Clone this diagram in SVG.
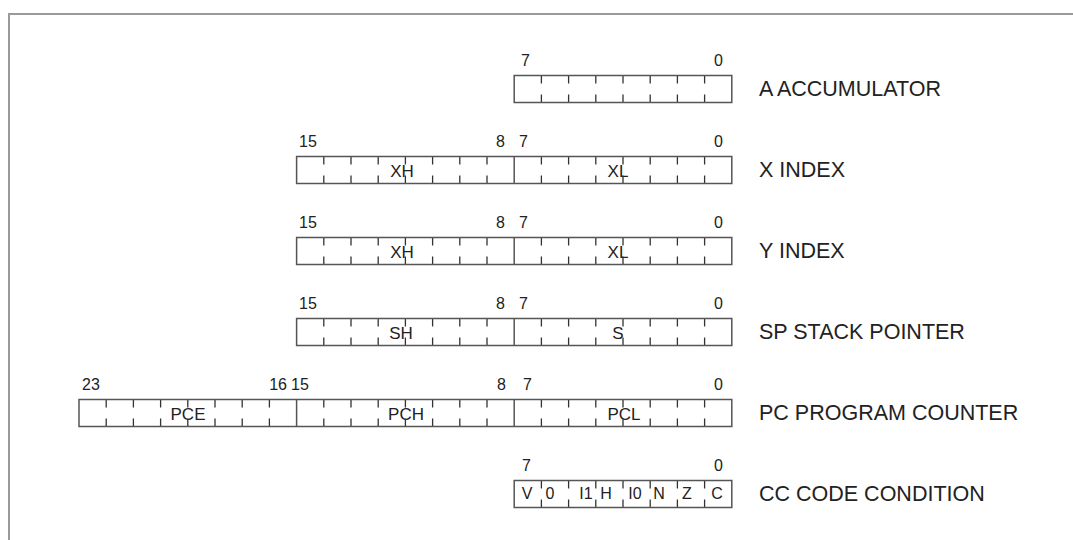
<svg xmlns="http://www.w3.org/2000/svg" xmlns:xlink="http://www.w3.org/1999/xlink" width="1073" height="540" viewBox="0 0 1073 540">
<style>
.frame{fill:none;stroke:#9a9a9a;stroke-width:2}
.box{fill:none;stroke:#555;stroke-width:1.5}
.tick{fill:none;stroke:#333;stroke-width:1.3}
.div{stroke:#555;stroke-width:1.5}
.num{font-family:"Liberation Sans",Arial,sans-serif;font-size:16px;fill:#222}
.lbl{font-family:"Liberation Sans",Arial,sans-serif;font-size:21.5px;fill:#222}
.in{font-family:"Liberation Sans",Arial,sans-serif;font-size:17px;fill:#222;text-anchor:middle}
.cc{font-family:"Liberation Sans",Arial,sans-serif;font-size:16px;fill:#222;text-anchor:middle}
.end{text-anchor:end}
</style>
<defs>
<path id="bt" class="tick" d="M27.2 0v8M54.4 0v8M81.6 0v8M108.8 0v8M136 0v8M163.2 0v8M190.4 0v8M27.2 27v-8M54.4 27v-8M81.6 27v-8M108.8 27v-8M136 27v-8M163.2 27v-8M190.4 27v-8"/>
</defs>
<rect class="frame" x="9" y="14" width="1100" height="600"/>

<g id="reg-a">
<text class="num" x="521" y="66">7</text>
<text class="num end" x="723" y="66">0</text>
<use xlink:href="#bt" x="514.2" y="75.5"/>
<rect class="box" x="514.2" y="75.5" width="217.6" height="27"/>
<text class="lbl" x="759" y="96">A ACCUMULATOR</text>
</g>

<g id="reg-x">
<text class="num" x="299" y="147">15</text>
<text class="num end" x="505" y="147">8</text>
<text class="num" x="519" y="147">7</text>
<text class="num end" x="723" y="147">0</text>
<text class="in" x="402" y="176.5">XH</text>
<text class="in" x="618" y="176.5">XL</text>
<use xlink:href="#bt" x="296.6" y="156.5"/>
<use xlink:href="#bt" x="514.2" y="156.5"/>
<line class="div" x1="514.2" y1="156.5" x2="514.2" y2="183.5"/>
<rect class="box" x="296.6" y="156.5" width="435.2" height="27"/>
<text class="lbl" x="759" y="177">X INDEX</text>
</g>

<g id="reg-y">
<text class="num" x="299" y="228">15</text>
<text class="num end" x="505" y="228">8</text>
<text class="num" x="519" y="228">7</text>
<text class="num end" x="723" y="228">0</text>
<text class="in" x="402" y="257.5">XH</text>
<text class="in" x="618" y="257.5">XL</text>
<use xlink:href="#bt" x="296.6" y="237.5"/>
<use xlink:href="#bt" x="514.2" y="237.5"/>
<line class="div" x1="514.2" y1="237.5" x2="514.2" y2="264.5"/>
<rect class="box" x="296.6" y="237.5" width="435.2" height="27"/>
<text class="lbl" x="759" y="258">Y INDEX</text>
</g>

<g id="reg-sp">
<text class="num" x="299" y="309">15</text>
<text class="num end" x="505" y="309">8</text>
<text class="num" x="519" y="309">7</text>
<text class="num end" x="723" y="309">0</text>
<text class="in" x="401" y="338.5">SH</text>
<text class="in" x="618" y="338.5">S</text>
<use xlink:href="#bt" x="296.6" y="318.5"/>
<use xlink:href="#bt" x="514.2" y="318.5"/>
<line class="div" x1="514.2" y1="318.5" x2="514.2" y2="345.5"/>
<rect class="box" x="296.6" y="318.5" width="435.2" height="27"/>
<text class="lbl" x="759" y="339">SP STACK POINTER</text>
</g>

<g id="reg-pc">
<text class="num" x="82" y="390">23</text>
<text class="num end" x="287" y="390">16</text>
<text class="num" x="291" y="390">15</text>
<text class="num end" x="506" y="390">8</text>
<text class="num" x="523" y="390">7</text>
<text class="num end" x="723" y="390">0</text>
<text class="in" x="188" y="419.5">PCE</text>
<text class="in" x="406" y="419.5">PCH</text>
<text class="in" x="624" y="419.5">PCL</text>
<use xlink:href="#bt" x="79" y="399.5"/>
<use xlink:href="#bt" x="296.6" y="399.5"/>
<use xlink:href="#bt" x="514.2" y="399.5"/>
<line class="div" x1="296.6" y1="399.5" x2="296.6" y2="426.5"/>
<line class="div" x1="514.2" y1="399.5" x2="514.2" y2="426.5"/>
<rect class="box" x="79" y="399.5" width="652.8" height="27"/>
<text class="lbl" x="759" y="420">PC PROGRAM COUNTER</text>
</g>

<g id="reg-cc">
<text class="num" x="522" y="471">7</text>
<text class="num end" x="723" y="471">0</text>
<text class="cc" x="527" y="499">V</text>
<text class="cc" x="550" y="499">0</text>
<text class="cc" x="586" y="499">I1</text>
<text class="cc" x="606" y="499">H</text>
<text class="cc" x="635" y="499">I0</text>
<text class="cc" x="659" y="499">N</text>
<text class="cc" x="687" y="499">Z</text>
<text class="cc" x="717" y="499">C</text>
<use xlink:href="#bt" x="514.2" y="480.5"/>
<rect class="box" x="514.2" y="480.5" width="217.6" height="27"/>
<text class="lbl" x="759" y="501">CC CODE CONDITION</text>
</g>
</svg>
